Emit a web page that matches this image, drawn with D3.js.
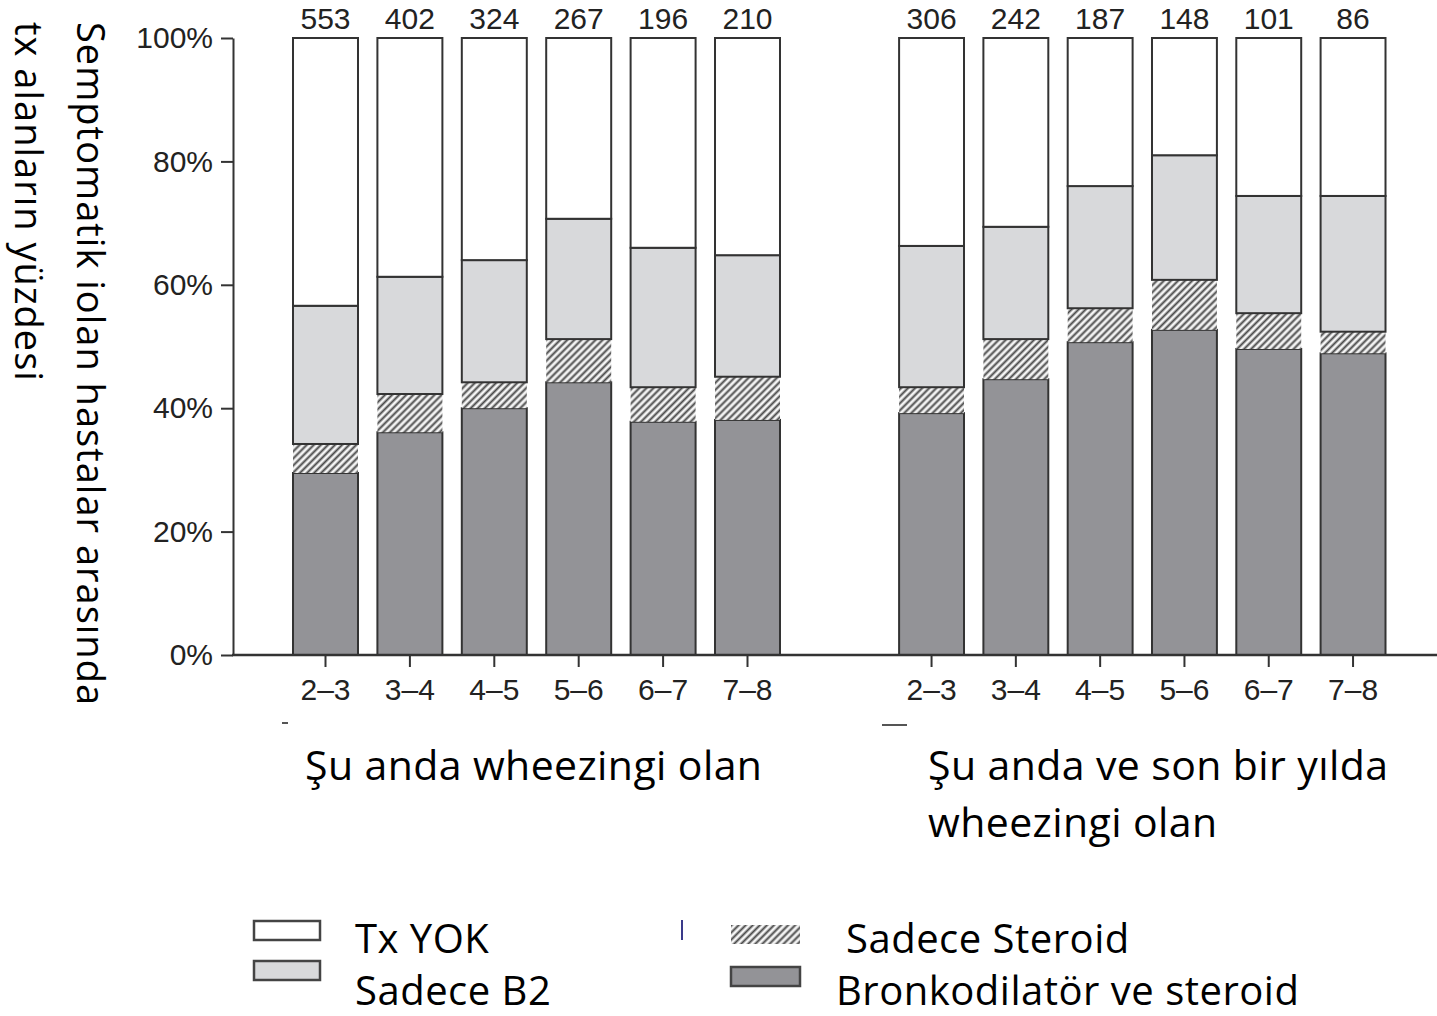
<!DOCTYPE html>
<html>
<head>
<meta charset="utf-8">
<script src="https://cdn.jsdelivr.net/npm/d3@7"></script>
<style>
  body { margin: 0; background: #fff; }
  .axis-text { font-family: "Liberation Sans", Arial, sans-serif; font-size: 30px; fill: #222; }
  .big-text { font-family: "Open Sans", sans-serif; fill: #000; }
</style>
</head>
<body>
<script>
// age groups and the n above each bar
var ages = ["2–3", "3–4", "4–5", "5–6", "6–7", "7–8"];
var countsNow = [553, 402, 324, 267, 196, 210];
var countsYear = [306, 242, 187, 148, 101, 86];

// percent of treated children (bottom to top)
var bothNow     = [29.5, 36.1, 40.0, 44.2, 37.8, 38.1];
var steroidNow  = [4.7, 6.2, 4.2, 7.0, 5.6, 7.0];
var b2Now       = [22.4, 19.0, 19.8, 19.5, 22.6, 19.7];
var noneNow     = [43.4, 38.7, 36.0, 29.3, 34.0, 35.2];

var bothYear    = [39.2, 44.7, 50.7, 52.7, 49.6, 48.9];
var steroidYear = [4.2, 6.5, 5.5, 8.1, 5.8, 3.5];
var b2Year      = [22.9, 18.2, 19.8, 20.2, 19.0, 22.0];
var noneYear    = [33.7, 30.6, 24.0, 19.0, 25.6, 25.6];

var yTicks = [0, 20, 40, 60, 80, 100];
var keys = ["both", "steroid", "b2", "none"];
var legendNames = ["Tx YOK", "Sadece B2", "Sadece Steroid", "Bronkodilatör ve steroid"];

var W = 1437, H = 1016;
var svg = d3.select("body").append("svg")
    .attr("width", W)
    .attr("height", H);

// hatch pattern for the steroid-only part
var defs = svg.append("defs");
defs.append("pattern")
    .attr("id", "hatch")
    .attr("patternUnits", "userSpaceOnUse")
    .attr("width", 5)
    .attr("height", 5)
    .attr("patternTransform", "rotate(45)")
  .call(function(p) {
    p.append("rect").attr("width", 5).attr("height", 5).attr("fill", "#f4f4f4");
    p.append("line")
      .attr("x1", 1.5).attr("y1", 0).attr("x2", 1.5).attr("y2", 5)
      .attr("stroke", "#4a4a4a").attr("stroke-width", 2);
  });

var fills = { both: "#939397", steroid: "url(#hatch)", b2: "#d8d9db", none: "#ffffff" };

var y = d3.scaleLinear().domain([0, 100]).range([655, 38]);

function makeRows(a, b, c, d) {
  return ages.map(function(age, i) {
    return { age: age, both: a[i], steroid: b[i], b2: c[i], none: d[i] };
  });
}

var panels = [
  { rows: makeRows(bothNow, steroidNow, b2Now, noneNow), counts: countsNow,
    x: d3.scaleBand().domain(ages).range([283.3, 789.7]).paddingInner(0.23).paddingOuter(0.115) },
  { rows: makeRows(bothYear, steroidYear, b2Year, noneYear), counts: countsYear,
    x: d3.scaleBand().domain(ages).range([889.4, 1395.2]).paddingInner(0.23).paddingOuter(0.115) }
];

var stack = d3.stack().keys(keys);

panels.forEach(function(p) {
  var series = stack(p.rows);
  var g = svg.append("g");
  series.forEach(function(s) {
    g.selectAll(null)
      .data(s)
      .enter()
      .append("rect")
      .attr("x", function(d) { return p.x(d.data.age); })
      .attr("width", p.x.bandwidth())
      .attr("y", function(d) { return y(d[1]); })
      .attr("height", function(d) { return y(d[0]) - y(d[1]); })
      .attr("fill", fills[s.key])
      .attr("stroke", s.key == "steroid" ? "none" : "#333")
      .attr("stroke-width", 2);
  });

  // n above bars
  svg.append("g").selectAll("text")
    .data(p.counts)
    .enter()
    .append("text")
    .attr("class", "axis-text")
    .attr("x", function(d, i) { return p.x(ages[i]) + p.x.bandwidth() / 2; })
    .attr("y", 29)
    .attr("text-anchor", "middle")
    .text(function(d) { return d; });

  // x axis ticks
  var xAxis = d3.axisBottom(p.x).tickSize(12).tickSizeOuter(0).tickPadding(12);
  var ax = svg.append("g")
    .attr("transform", "translate(0,655)")
    .call(xAxis);
  ax.select(".domain").remove();
  ax.selectAll(".tick line").attr("stroke", "#333").attr("stroke-width", 2);
  ax.selectAll(".tick text").attr("class", "axis-text").attr("font-size", null)
    .attr("font-family", null).attr("fill", null).attr("dy", "0.71em");
});

// baseline
svg.append("line")
  .attr("x1", 232).attr("x2", W).attr("y1", 655).attr("y2", 655)
  .attr("stroke", "#333").attr("stroke-width", 2.5);

// y axis
var yAxis = d3.axisLeft(y).tickValues(yTicks).tickSize(12).tickSizeOuter(0).tickPadding(8)
  .tickFormat(function(d) { return d + "%"; });
var ay = svg.append("g")
  .attr("transform", "translate(233,0)")
  .call(yAxis);
ay.select(".domain").attr("stroke", "#333").attr("stroke-width", 2);
ay.selectAll(".tick line").attr("stroke", "#333").attr("stroke-width", 2);
ay.selectAll(".tick text").attr("class", "axis-text").attr("font-size", null)
  .attr("font-family", null).attr("fill", null);

// y axis title, rotated
var yt = svg.append("text")
  .attr("class", "big-text")
  .attr("transform", "translate(77,22) rotate(90)")
  .style("font-size", "38px")
  .style("letter-spacing", "1px");
yt.append("tspan").attr("x", 0).attr("dy", 0).text("Semptomatik iolan hastalar arasında");
yt.append("tspan").attr("x", 0).attr("dy", 62).text("tx alanların yüzdesi");

// group titles
svg.append("text").attr("class", "big-text")
  .attr("x", 305).attr("y", 780).style("font-size", "41px")
  .style("letter-spacing", "0.4px")
  .text("Şu anda wheezingi olan");
var gt = svg.append("text").attr("class", "big-text")
  .attr("x", 928).attr("y", 780).style("font-size", "41px")
  .style("letter-spacing", "0.4px");
gt.append("tspan").attr("x", 928).text("Şu anda ve son bir yılda");
gt.append("tspan").attr("x", 928).attr("dy", 57).text("wheezingi olan");

// small stray marks from the source
svg.append("line").attr("x1", 282).attr("x2", 288).attr("y1", 723).attr("y2", 723)
  .attr("stroke", "#555").attr("stroke-width", 2);
svg.append("line").attr("x1", 882).attr("x2", 907).attr("y1", 725).attr("y2", 725)
  .attr("stroke", "#555").attr("stroke-width", 2);
svg.append("line").attr("x1", 682).attr("x2", 682).attr("y1", 920).attr("y2", 940)
  .attr("stroke", "#3a3a8a").attr("stroke-width", 2);

// legend
var legend = [
  { key: "none",    x: 254, y: 921, w: 66, h: 19, tx: 355, ty: 953 },
  { key: "b2",      x: 254, y: 961, w: 66, h: 19, tx: 355, ty: 1005 },
  { key: "steroid", x: 731, y: 925, w: 69, h: 19, tx: 846, ty: 953 },
  { key: "both",    x: 731, y: 967, w: 69, h: 19, tx: 836, ty: 1005 }
];
var lg = svg.append("g").selectAll("g")
  .data(legend)
  .enter()
  .append("g");
lg.append("rect")
  .attr("x", function(d) { return d.x; })
  .attr("y", function(d) { return d.y; })
  .attr("width", function(d) { return d.w; })
  .attr("height", function(d) { return d.h; })
  .attr("fill", function(d) { return fills[d.key]; })
  .attr("stroke", function(d) { return d.key == "steroid" ? "none" : "#444"; })
  .attr("stroke-width", 2.5);
lg.append("text")
  .attr("class", "big-text")
  .attr("x", function(d) { return d.tx; })
  .attr("y", function(d) { return d.ty; })
  .style("font-size", "40px")
  .style("letter-spacing", "0.5px")
  .text(function(d, i) {
    return legendNames[["none", "b2", "steroid", "both"].indexOf(d.key)];
  });
</script>
</body>
</html>
